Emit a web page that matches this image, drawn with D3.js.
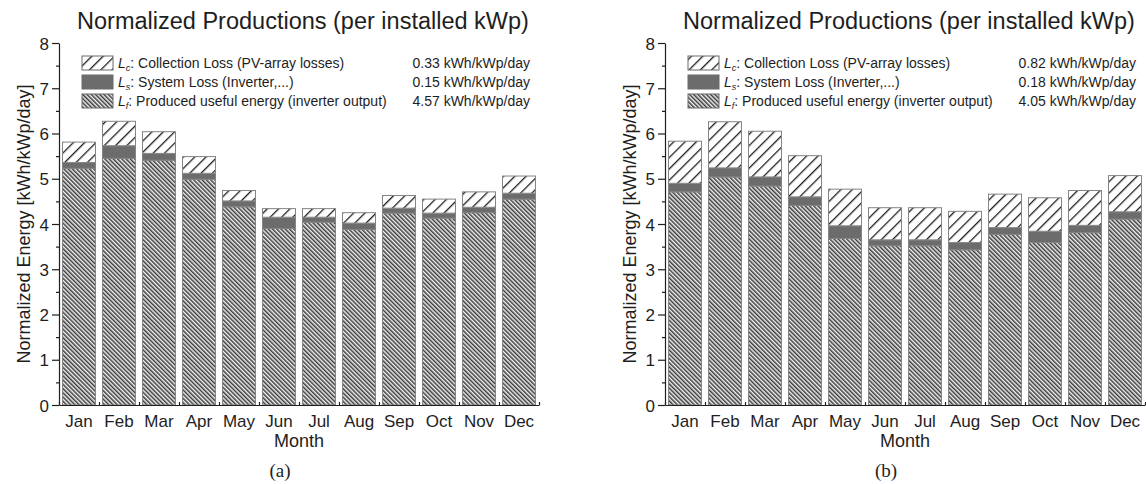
<!DOCTYPE html>
<html>
<head>
<meta charset="utf-8">
<script src="https://cdn.jsdelivr.net/npm/d3@7"></script>
<style>
  body { margin: 0; background: #fff; }
  text { font-family: "Liberation Sans", Arial, sans-serif; fill: #1e1e1e; }
  .panel { font-family: "Liberation Serif", "Times New Roman", serif; }
</style>
</head>
<body>
<div id="container"></div>
<script>
// Months on the x axis
var months = ["Jan", "Feb", "Mar", "Apr", "May", "Jun", "Jul", "Aug", "Sep", "Oct", "Nov", "Dec"];

// Chart (a): produced energy Yf, system loss Ls, collection loss Lc [kWh/kWp/day]
var yfA = [5.23, 5.45, 5.41, 4.99, 4.38, 3.90, 4.04, 3.88, 4.24, 4.13, 4.25, 4.55];
var lsA = [0.13, 0.28, 0.15, 0.13, 0.13, 0.25, 0.11, 0.14, 0.11, 0.11, 0.12, 0.13];
var lcA = [0.45, 0.54, 0.48, 0.37, 0.23, 0.19, 0.19, 0.23, 0.28, 0.31, 0.34, 0.38];

// Chart (b)
var yfB = [4.71, 5.04, 4.84, 4.41, 3.68, 3.52, 3.52, 3.43, 3.77, 3.59, 3.81, 4.11];
var lsB = [0.19, 0.20, 0.20, 0.19, 0.28, 0.13, 0.13, 0.16, 0.15, 0.25, 0.16, 0.16];
var lcB = [0.93, 1.02, 1.01, 0.91, 0.81, 0.71, 0.71, 0.69, 0.74, 0.74, 0.77, 0.80];

// Legend texts
var legendSubs = ["c", "s", "f"];
var legendNames = [": Collection Loss (PV-array losses)", ": System Loss (Inverter,...)", ": Produced useful energy (inverter output)"];
var legendValuesA = ["0.33 kWh/kWp/day", "0.15 kWh/kWp/day", "4.57 kWh/kWp/day"];
var legendValuesB = ["0.82 kWh/kWp/day", "0.18 kWh/kWp/day", "4.05 kWh/kWp/day"];

var yTicks = [0, 1, 2, 3, 4, 5, 6, 7, 8];
var yMinorTicks = [0.5, 1.5, 2.5, 3.5, 4.5, 5.5, 6.5, 7.5];

var width = 1146;
var height = 484;

var svg = d3.select("#container")
            .append("svg")
            .attr("width", width)
            .attr("height", height);

// Hatch patterns
var defs = svg.append("defs");

var pLc = defs.append("pattern")
              .attr("id", "lc")
              .attr("patternUnits", "userSpaceOnUse")
              .attr("width", 8).attr("height", 8)
              .attr("patternTransform", "rotate(45)");
pLc.append("rect").attr("width", 8).attr("height", 8).attr("fill", "#fff");
pLc.append("rect").attr("width", 1.3).attr("height", 8).attr("fill", "#1e1e1e");

var pYf = defs.append("pattern")
              .attr("id", "yf")
              .attr("patternUnits", "userSpaceOnUse")
              .attr("width", 3).attr("height", 3)
              .attr("patternTransform", "rotate(-45)");
pYf.append("rect").attr("width", 3).attr("height", 3).attr("fill", "#f2f2f2");
pYf.append("rect").attr("width", 1.5).attr("height", 3).attr("fill", "#3a3a3a");

var fills = {yf: "url(#yf)", ls: "#6c6c6c", lc: "url(#lc)"};
var legendFills = [fills.lc, fills.ls, fills.yf];

function drawChart(x0, yf, ls, lc, legendValues, panelLabel) {
  var g = svg.append("g");
  var left = x0, right = x0 + 480;
  var top = 43, bottom = 405;

  var data = months.map((m, i) => ({month: m, yf: yf[i], ls: ls[i], lc: lc[i]}));
  var series = d3.stack().keys(["yf", "ls", "lc"])(data);

  var xScale = d3.scaleBand()
                 .domain(months)
                 .range([left, right])
                 .paddingInner(0.175)
                 .paddingOuter(0.0875);

  var yScale = d3.scaleLinear()
                 .domain([0, 8])
                 .range([bottom, top]);

  // Stacked bars
  g.selectAll("g.layer")
   .data(series)
   .enter()
   .append("g")
   .attr("fill", (s) => fills[s.key])
   .selectAll("rect")
   .data((s) => s)
   .enter()
   .append("rect")
   .attr("x", (d) => xScale(d.data.month))
   .attr("y", (d) => yScale(d[1]))
   .attr("width", xScale.bandwidth())
   .attr("height", (d) => yScale(d[0]) - yScale(d[1]))
   .attr("stroke", "#858585")
   .attr("stroke-width", 1);

  // Y axis, major and minor ticks
  var yAxis = d3.axisLeft(yScale).tickValues(yTicks).tickSize(7).tickSizeOuter(0).tickPadding(3);
  var ya = g.append("g").attr("transform", "translate(" + left + ",0)").call(yAxis);
  ya.selectAll("text").style("font-size", "17px").attr("dy", "0.36em");

  var yMinor = d3.axisLeft(yScale).tickValues(yMinorTicks).tickSize(3).tickFormat("");
  var ym = g.append("g").attr("transform", "translate(" + left + ",0)").call(yMinor);
  ym.select(".domain").remove();

  // X axis line with ticks at band edges
  var edgeScale = d3.scaleLinear().domain([0, 12]).range([left, right]);
  var xEdge = d3.axisBottom(edgeScale).tickValues(d3.range(0, 13)).tickSize(-3).tickSizeOuter(0).tickFormat("");
  g.append("g").attr("transform", "translate(0," + bottom + ")").call(xEdge);

  // Month labels
  var xAxis = d3.axisBottom(xScale).tickSize(0).tickPadding(10);
  var xa = g.append("g").attr("transform", "translate(0," + bottom + ")").call(xAxis);
  xa.select(".domain").remove();
  xa.selectAll("text").style("font-size", "17px");

  g.selectAll(".domain, .tick line").attr("stroke", "#1e1e1e").attr("stroke-width", 1.2);
  g.selectAll(".tick text").attr("fill", "#1e1e1e").style("font-family", '"Liberation Sans", Arial, sans-serif');

  // Titles
  g.append("text")
   .attr("x", (left + right) / 2 + 4)
   .attr("y", 29)
   .attr("text-anchor", "middle")
   .style("font-size", "23.5px")
   .text("Normalized Productions (per installed kWp)");

  g.append("text")
   .attr("transform", "translate(" + (left - 29) + "," + ((top + bottom) / 2) + ") rotate(-90)")
   .attr("text-anchor", "middle")
   .style("font-size", "18px")
   .text("Normalized Energy [kWh/kWp/day]");

  g.append("text")
   .attr("x", (left + right) / 2)
   .attr("y", 447)
   .attr("text-anchor", "middle")
   .style("font-size", "18px")
   .text("Month");

  g.append("text")
   .attr("class", "panel")
   .attr("x", (left + right) / 2 - 19)
   .attr("y", 477)
   .attr("text-anchor", "middle")
   .style("font-size", "19px")
   .text(panelLabel);

  // Legend
  var legend = g.append("g");
  legendNames.forEach(function(name, i) {
    var ly = 56 + i * 19;
    legend.append("rect")
          .attr("x", left + 23).attr("y", ly)
          .attr("width", 31).attr("height", 14)
          .attr("fill", legendFills[i])
          .attr("stroke", "#6a6a6a")
          .attr("stroke-width", 1);
    var t = legend.append("text")
                  .attr("x", left + 59)
                  .attr("y", ly + 12)
                  .style("font-size", "14px");
    t.append("tspan").style("font-style", "italic").text("L");
    t.append("tspan").style("font-style", "italic").style("font-size", "9px").attr("dy", 3).text(legendSubs[i]);
    t.append("tspan").attr("dy", -3).text(name);
    legend.append("text")
          .attr("x", right - 9)
          .attr("y", ly + 12)
          .attr("text-anchor", "end")
          .style("font-size", "14px")
          .text(legendValues[i]);
  });
}

drawChart(59, yfA, lsA, lcA, legendValuesA, "(a)");
drawChart(665, yfB, lsB, lcB, legendValuesB, "(b)");
</script>
</body>
</html>
